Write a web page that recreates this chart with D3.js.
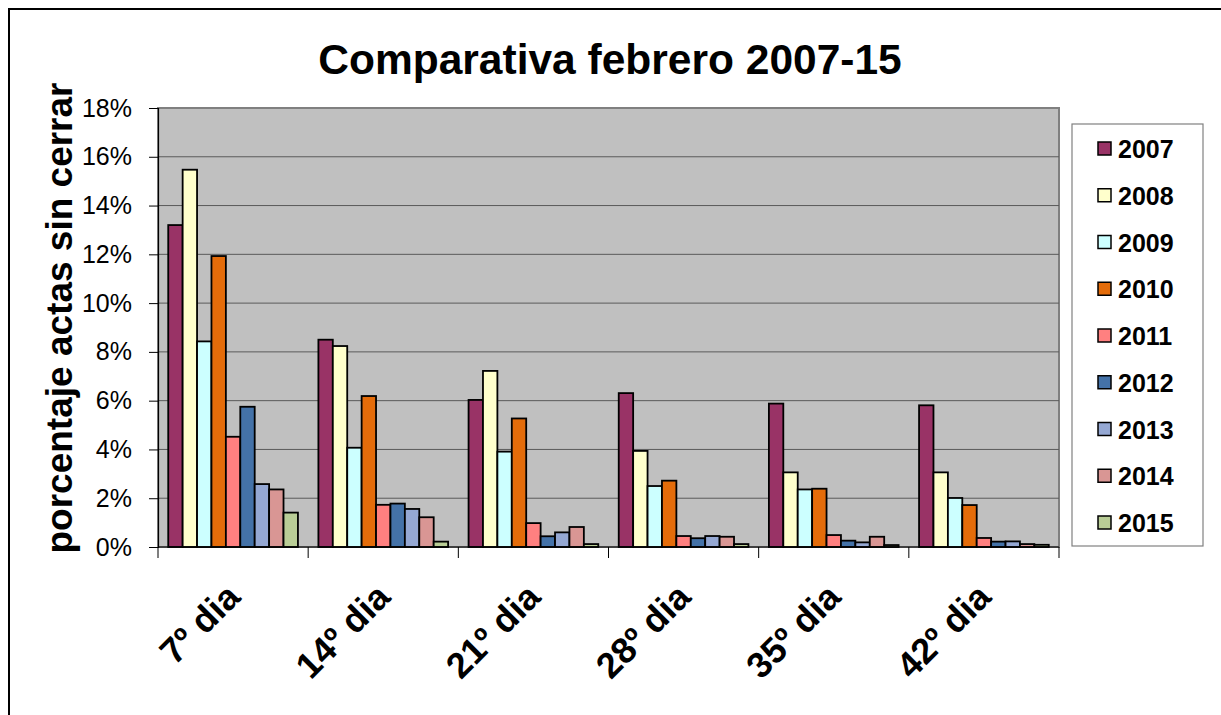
<!DOCTYPE html>
<html>
<head>
<meta charset="utf-8">
<script src="https://cdn.jsdelivr.net/npm/d3@7"></script>
<style>
  body { margin: 0; background: #fff; }
  svg text { font-family: "Liberation Sans", Arial, sans-serif; }
</style>
</head>
<body>
<svg id="chart" width="1221" height="715"></svg>
<script>
// Values (fraction of actas still open)
const categories = ["7º dia", "14º dia", "21º dia", "28º dia", "35º dia", "42º dia"];
const years = ["2007", "2008", "2009", "2010", "2011", "2012", "2013", "2014", "2015"];
const colors = ["#993366", "#FFFFCC", "#CCFFFF", "#E46C0A", "#FF8080", "#4472A8", "#95A8D3", "#D99694", "#B9CD96"];

const v2007 = [13.2, 8.5, 6.03, 6.31, 5.88, 5.81];
const v2008 = [15.47, 8.24, 7.22, 3.94, 3.06, 3.06];
const v2009 = [8.43, 4.07, 3.91, 2.5, 2.36, 2.01];
const v2010 = [11.93, 6.19, 5.27, 2.72, 2.39, 1.72];
const v2011 = [4.52, 1.73, 0.98, 0.45, 0.49, 0.37];
const v2012 = [5.75, 1.78, 0.44, 0.36, 0.26, 0.22];
const v2013 = [2.58, 1.56, 0.6, 0.45, 0.19, 0.23];
const v2014 = [2.36, 1.22, 0.82, 0.42, 0.42, 0.12];
const v2015 = [1.41, 0.22, 0.12, 0.12, 0.08, 0.09];
const series = [v2007, v2008, v2009, v2010, v2011, v2012, v2013, v2014, v2015];

const yTicks = [0, 2, 4, 6, 8, 10, 12, 14, 16, 18];

const svg = d3.select("#chart");

// outer chart border (runs off the right and bottom of the picture)
svg.append("rect")
  .attr("x", 9).attr("y", 9)
  .attr("width", 1240).attr("height", 740)
  .attr("fill", "none").attr("stroke", "#000").attr("stroke-width", 2);

const plot = { left: 158, right: 1059, top: 108, bottom: 547 };

const x = d3.scaleBand()
  .domain(categories)
  .range([plot.left, plot.right]);

const xInner = d3.scaleBand()
  .domain(years)
  .range([0, x.bandwidth()])
  .paddingOuter(0.71);

const y = d3.scaleLinear()
  .domain([0, 18])
  .range([plot.bottom, plot.top]);

// plot background
svg.append("rect")
  .attr("x", plot.left).attr("y", plot.top)
  .attr("width", plot.right - plot.left).attr("height", plot.bottom - plot.top)
  .attr("fill", "#C0C0C0").attr("stroke", "#808080").attr("stroke-width", 2);

// gridlines
svg.append("g")
  .selectAll("line")
  .data(yTicks.filter(d => d > 0 && d < 18))
  .join("line")
    .attr("x1", plot.left).attr("x2", plot.right)
    .attr("y1", d => y(d)).attr("y2", d => y(d))
    .attr("stroke", "#5a5a5a").attr("stroke-width", 1);

// bars
const groups = svg.append("g")
  .selectAll("g")
  .data(categories)
  .join("g")
    .attr("transform", d => `translate(${x(d)},0)`);

groups.selectAll("rect")
  .data((c, ci) => years.map((yr, si) => ({ yr, si, val: series[si][ci] })))
  .join("rect")
    .attr("x", d => xInner(d.yr))
    .attr("y", d => y(d.val))
    .attr("width", xInner.bandwidth())
    .attr("height", d => y(0) - y(d.val))
    .attr("fill", d => colors[d.si])
    .attr("stroke", "#000")
    .attr("stroke-width", 1.8);

// y axis
const yAxis = svg.append("g")
  .attr("transform", `translate(${plot.left},0)`)
  .call(d3.axisLeft(y).tickValues(yTicks).tickFormat(d => d + "%").tickSize(9).tickPadding(17));
yAxis.select(".domain").attr("stroke", "#000").attr("stroke-width", 1.2);
yAxis.selectAll(".tick line").attr("stroke", "#000");
yAxis.selectAll("text")
  .attr("font-size", 25)
  .attr("fill", "#000")
  .style("font-family", "'Liberation Sans', Arial, sans-serif");

// x axis: ticks at category boundaries
const xAxisG = svg.append("g");
xAxisG.append("line")
  .attr("x1", plot.left).attr("x2", plot.right)
  .attr("y1", plot.bottom).attr("y2", plot.bottom)
  .attr("stroke", "#000").attr("stroke-width", 1.2);
xAxisG.selectAll(".bound")
  .data(categories.concat(["end"]))
  .join("line")
    .attr("class", "bound")
    .attr("x1", (d, i) => plot.left + i * x.step())
    .attr("x2", (d, i) => plot.left + i * x.step())
    .attr("y1", plot.bottom).attr("y2", plot.bottom + 11)
    .attr("stroke", "#000");

xAxisG.selectAll(".xlab")
  .data(categories)
  .join("text")
    .attr("class", "xlab")
    .attr("transform", d => `translate(${x(d) + x.bandwidth() / 2 + 9},${plot.bottom + 52}) rotate(-45)`)
    .attr("text-anchor", "end")
    .attr("font-size", 36)
    .attr("font-weight", "bold")
    .text(d => d);

// title
svg.append("text")
  .attr("x", 610).attr("y", 74)
  .attr("text-anchor", "middle")
  .attr("font-size", 42.5)
  .attr("font-weight", "bold")
  .text("Comparativa febrero 2007-15");

// y axis title
svg.append("text")
  .attr("transform", "translate(72,318) rotate(-90)")
  .attr("text-anchor", "middle")
  .attr("font-size", 37)
  .attr("font-weight", "bold")
  .text("porcentaje actas sin cerrar");

// legend
const legend = svg.append("g");
legend.append("rect")
  .attr("x", 1072).attr("y", 124)
  .attr("width", 131).attr("height", 422)
  .attr("fill", "#fff").attr("stroke", "#808080").attr("stroke-width", 1.2);

const leg = legend.selectAll(".item")
  .data(years)
  .join("g")
    .attr("class", "item")
    .attr("transform", (d, i) => `translate(1098,${149 + i * 46.75})`);
leg.append("rect")
  .attr("x", 0).attr("y", -7)
  .attr("width", 13).attr("height", 13)
  .attr("fill", (d, i) => colors[i])
  .attr("stroke", "#000").attr("stroke-width", 1.5);
leg.append("text")
  .attr("x", 20).attr("y", 9)
  .attr("font-size", 25)
  .attr("font-weight", "bold")
  .text(d => d);
</script>
</body>
</html>
